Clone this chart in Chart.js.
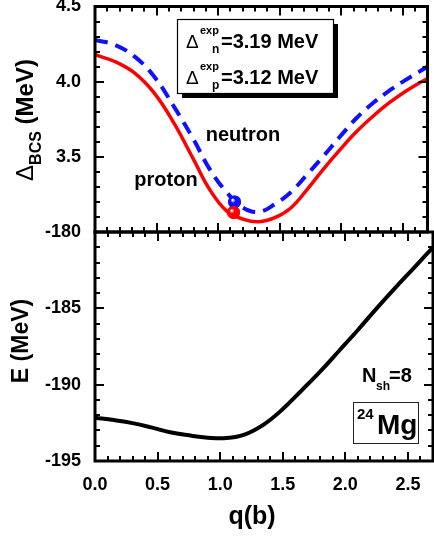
<!DOCTYPE html>
<html lang="en">
  <head>
    <meta charset="UTF-8" />
    <script src="https://cdn.jsdelivr.net/npm/chart.js"></script>
    <title>24Mg pairing gap and energy</title>
    <style>
      body { margin: 0; background: #fff; }
      #wrap { position: relative; width: 434px; height: 537px; }
      #wrap canvas { position: absolute; left: 0; top: 0; }
    </style>
  </head>
  <body>
    <div id="wrap">
      <canvas id="gapChart" width="434" height="537"></canvas>
      <canvas id="energyChart" width="434" height="537"></canvas>
    </div>

    <script>
      // ---- data ----
      const gapQ = [0, 0.16, 0.32, 0.48, 0.64, 0.8, 0.93, 1.07, 1.2, 1.33, 1.46, 1.59, 1.72, 1.85, 1.99, 2.12, 2.26, 2.39, 2.52, 2.63, 2.7];
      const protonGap = [4.179, 4.134, 4.058, 3.925, 3.726, 3.483, 3.284, 3.139, 3.086, 3.068, 3.095, 3.16, 3.28, 3.414, 3.548, 3.665, 3.772, 3.86, 3.935, 3.99, 4.02];
      const neutronGap = [4.278, 4.245, 4.168, 4.035, 3.836, 3.616, 3.42, 3.263, 3.163, 3.134, 3.185, 3.265, 3.38, 3.5, 3.635, 3.755, 3.86, 3.94, 4.01, 4.065, 4.1];

      const energyQ = [0, 0.15, 0.3, 0.45, 0.6, 0.75, 0.9, 1.05, 1.2, 1.35, 1.5, 1.65, 1.8, 1.95, 2.1, 2.25, 2.4, 2.55, 2.7];
      const energy = [-192.16, -192.32, -192.52, -192.8, -193.12, -193.32, -193.47, -193.5, -193.25, -192.6, -191.6, -190.38, -189.13, -187.78, -186.42, -185.0, -183.64, -182.33, -181.0];

      // experimental gap points (q, gap)
      const neutronDot = [1.133, 3.2];
      const protonDot = [1.125, 3.13];

      const xTickLabels = ["0.0", "0.5", "1.0", "1.5", "2.0", "2.5"];

      const FONT = "'Liberation Sans', Arial, sans-serif";

      function pts(xs, ys) {
        return xs.map((x, i) => ({ x: x, y: ys[i] }));
      }

      // draw a row of text pieces (for sub/superscripts)
      function drawParts(ctx, parts, x, y) {
        let cx = x;
        parts.forEach((p) => {
          ctx.font = p.font;
          if (p.x !== undefined) cx = p.x;
          ctx.fillText(p.text, cx, y + (p.dy || 0));
          cx += ctx.measureText(p.text).width;
        });
      }
      function partsWidth(ctx, parts) {
        let w = 0;
        parts.forEach((p) => {
          ctx.font = p.font;
          w += ctx.measureText(p.text).width;
        });
        return w;
      }

      // inward ticks on all four sides + thick frame
      const frameTicks = {
        id: "frameTicks",
        afterDatasetsDraw(chart, args, opts) {
          const { ctx, chartArea: a } = chart;
          const xs = chart.scales.x, ys = chart.scales.y;
          ctx.save();
          ctx.strokeStyle = "#000";
          ctx.lineWidth = 2;
          ctx.beginPath();
          for (let v = xs.min; v <= xs.max + 1e-9; v += opts.xMinor) {
            const px = Math.round(xs.getPixelForValue(v));
            const major = Math.abs(v / opts.xMajor - Math.round(v / opts.xMajor)) < 1e-6;
            const len = major ? 9 : 5;
            ctx.moveTo(px, a.top); ctx.lineTo(px, a.top + len);
            ctx.moveTo(px, a.bottom); ctx.lineTo(px, a.bottom - len);
          }
          for (let v = ys.min; v <= ys.max + 1e-9; v += opts.yMinor) {
            const py = Math.round(ys.getPixelForValue(v));
            const major = Math.abs(v / opts.yMajor - Math.round(v / opts.yMajor)) < 1e-6;
            const len = major ? 9 : 5;
            ctx.moveTo(a.left, py); ctx.lineTo(a.left + len, py);
            ctx.moveTo(a.right, py); ctx.lineTo(a.right - len, py);
          }
          ctx.stroke();
          ctx.lineWidth = 3;
          ctx.strokeRect(a.left, a.top, a.right - a.left, a.bottom - a.top);
          ctx.restore();
        },
      };

      // shiny balls for the experimental points
      const shinyDots = {
        id: "shinyDots",
        afterDatasetsDraw(chart) {
          const ctx = chart.ctx;
          chart.data.datasets.forEach((ds, i) => {
            if (!ds.shiny) return;
            chart.getDatasetMeta(i).data.forEach((pt) => {
              const g = ctx.createRadialGradient(pt.x - 2, pt.y - 2, 0.5, pt.x, pt.y, 7);
              g.addColorStop(0, "#ffffff");
              g.addColorStop(0.3, ds.shiny);
              g.addColorStop(1, ds.shiny);
              ctx.save();
              ctx.fillStyle = g;
              ctx.beginPath();
              ctx.arc(pt.x, pt.y, 6.5, 0, Math.PI * 2);
              ctx.fill();
              ctx.restore();
            });
          });
        },
      };

      // text annotations for the upper panel
      const gapText = {
        id: "gapText",
        afterDraw(chart) {
          const ctx = chart.ctx;
          ctx.save();
          ctx.fillStyle = "#000";
          // box with shadow
          ctx.fillRect(182, 24, 156, 74);
          ctx.fillStyle = "#fff";
          ctx.fillRect(177, 19, 156, 74);
          ctx.strokeStyle = "#000";
          ctx.lineWidth = 1.2;
          ctx.strokeRect(177.5, 19.5, 156, 74);
          ctx.fillStyle = "#000";
          ctx.textBaseline = "alphabetic";
          ctx.textAlign = "left";
          drawParts(ctx, [
            { text: "\u0394", font: "19px " + FONT, x: 186 },
            { text: "exp", font: "bold 11px " + FONT, dy: -14, x: 200 },
            { text: "n", font: "bold 12px " + FONT, dy: 5, x: 212 },
            { text: "=3.19 MeV", font: "bold 20px " + FONT, x: 221 },
          ], 0, 48);
          drawParts(ctx, [
            { text: "\u0394", font: "19px " + FONT, x: 186 },
            { text: "exp", font: "bold 11px " + FONT, dy: -14, x: 200 },
            { text: "p", font: "bold 12px " + FONT, dy: 5, x: 212 },
            { text: "=3.12 MeV", font: "bold 20px " + FONT, x: 221 },
          ], 0, 84);

          ctx.font = "bold 20px " + FONT;
          ctx.textAlign = "center";
          ctx.textBaseline = "middle";
          ctx.fillText("neutron", 243, 135);
          ctx.fillText("proton", 166, 180);

          // rotated y title
          const parts = [
            { text: "\u0394", font: "24px " + FONT },
            { text: "BCS", font: "bold 16px " + FONT, dy: 8 },
            { text: " (MeV)", font: "bold 24px " + FONT },
          ];
          ctx.translate(33, 120);
          ctx.rotate(-Math.PI / 2);
          ctx.textAlign = "left";
          ctx.textBaseline = "alphabetic";
          const w = partsWidth(ctx, parts);
          drawParts(ctx, parts, -w / 2, 0);
          ctx.restore();
        },
      };

      // text annotations for the lower panel
      const energyText = {
        id: "energyText",
        afterDraw(chart) {
          const ctx = chart.ctx;
          ctx.save();
          ctx.fillStyle = "#000";
          ctx.textAlign = "left";
          ctx.textBaseline = "alphabetic";
          drawParts(ctx, [
            { text: "N", font: "bold 20px " + FONT, x: 362 },
            { text: "sh", font: "bold 12px " + FONT, dy: 8, x: 376 },
            { text: "=8", font: "bold 20px " + FONT, x: 389 },
          ], 0, 382);

          ctx.strokeStyle = "#222";
          ctx.lineWidth = 1;
          ctx.strokeRect(353.5, 402.5, 65, 41);
          drawParts(ctx, [
            { text: "24", font: "bold 15px " + FONT, x: 357 },
          ], 0, 419);
          drawParts(ctx, [
            { text: "Mg", font: "bold 28px " + FONT, x: 377 },
          ], 0, 434);

          ctx.font = "bold 25px " + FONT;
          ctx.textAlign = "center";
          ctx.textBaseline = "middle";
          ctx.fillText("q(b)", 252, 517);

          ctx.font = "bold 23px " + FONT;
          ctx.translate(22, 341);
          ctx.rotate(-Math.PI / 2);
          ctx.fillText("E (MeV)", 0, 0);
          ctx.restore();
        },
      };

      const tickFont = { family: FONT, size: 18, weight: "bold" };

      // keep the plot frames exactly where the figure has them
      function fixY(s) {
        s.width = 95;
        s.paddingTop = 0;
        s.paddingBottom = 0;
      }

      // ---- upper panel: pairing gaps ----
      new Chart(document.getElementById("gapChart"), {
        type: "line",
        data: {
          datasets: [
            {
              data: pts(gapQ, neutronGap),
              borderColor: "#1010ff",
              borderWidth: 4,
              borderDash: [13, 8],
              pointRadius: 0,
              tension: 0.4,
              fill: false,
            },
            {
              data: pts(gapQ, protonGap),
              borderColor: "#ff0000",
              borderWidth: 3.5,
              pointRadius: 0,
              tension: 0.4,
              fill: false,
            },
            {
              data: [{ x: neutronDot[0], y: neutronDot[1] }],
              showLine: false,
              pointRadius: 6.5,
              pointBorderWidth: 0,
              pointBackgroundColor: "#1010ff",
              shiny: "#1010ff",
            },
            {
              data: [{ x: protonDot[0], y: protonDot[1] }],
              showLine: false,
              pointRadius: 6.5,
              pointBorderWidth: 0,
              pointBackgroundColor: "#ff0000",
              shiny: "#ff0000",
            },
          ],
        },
        options: {
          responsive: false,
          animation: false,
          layout: { padding: { left: 0, top: 5, right: 1, bottom: 305 } },
          plugins: {
            legend: { display: false },
            tooltip: { enabled: false },
            frameTicks: { xMinor: 0.1, xMajor: 0.5, yMinor: 0.1, yMajor: 0.5 },
          },
          scales: {
            x: {
              type: "linear",
              min: 0,
              max: 2.7,
              grid: { display: false },
              border: { display: false },
              ticks: { display: false },
              afterFit: (s) => { s.height = 0; },
            },
            y: {
              min: 3,
              max: 4.5,
              grid: { display: false, drawTicks: false },
              border: { display: false },
              ticks: {
                stepSize: 0.5,
                padding: 14,
                color: "#000",
                font: tickFont,
                callback: (v) => (v === 3 ? "" : v.toFixed(1)),
              },
              afterFit: fixY,
            },
          },
        },
        plugins: [frameTicks, shinyDots, gapText],
      });

      // ---- lower panel: total energy ----
      new Chart(document.getElementById("energyChart"), {
        type: "line",
        data: {
          datasets: [
            {
              data: pts(energyQ, energy),
              borderColor: "#000",
              borderWidth: 4,
              pointRadius: 0,
              tension: 0.4,
              fill: false,
            },
          ],
        },
        options: {
          responsive: false,
          animation: false,
          layout: { padding: { left: 0, top: 232, right: 1, bottom: 0 } },
          plugins: {
            legend: { display: false },
            tooltip: { enabled: false },
            frameTicks: { xMinor: 0.1, xMajor: 0.5, yMinor: 1, yMajor: 5 },
          },
          scales: {
            x: {
              type: "linear",
              min: 0,
              max: 2.7,
              grid: { display: false, drawTicks: false },
              border: { display: false },
              ticks: {
                stepSize: 0.5,
                includeBounds: false,
                padding: 13,
                maxRotation: 0,
                color: "#000",
                font: tickFont,
                callback: (v, i) => xTickLabels[i],
              },
              afterFit: (s) => { s.height = 76; },
            },
            y: {
              min: -195,
              max: -180,
              grid: { display: false, drawTicks: false },
              border: { display: false },
              ticks: {
                stepSize: 5,
                padding: 14,
                color: "#000",
                font: tickFont,
              },
              afterFit: fixY,
            },
          },
        },
        plugins: [frameTicks, energyText],
      });
    </script>
  </body>
</html>
